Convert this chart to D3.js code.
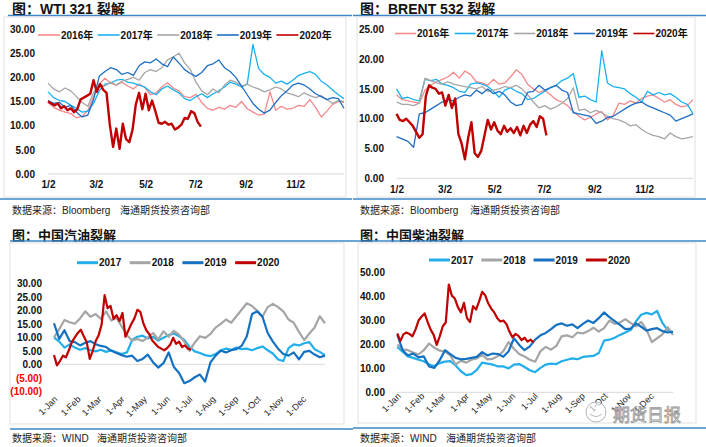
<!DOCTYPE html>
<html>
<head>
<meta charset="utf-8">
<script src="https://cdn.jsdelivr.net/npm/d3@7"></script>
<style>
    body { margin: 0; background: #fff; }
    svg { display: block; font-family: "Liberation Sans", "Noto Sans CJK SC", sans-serif; }
    .title { font-family: "Liberation Sans", "Noto Sans CJK SC", sans-serif; font-size: 14px; font-weight: bold; fill: #111; }
    .title-cn { font-size: 13px; }
    .source { font-family: "Liberation Sans", "Noto Sans CJK SC", sans-serif; font-size: 10px; fill: #222; }
    .tick-y { font-size: 10px; font-weight: bold; fill: #111; }
    .tick-x { font-size: 10px; font-weight: bold; fill: #111; }
    .tick-xr { font-size: 9px; fill: #222; }
    .legend-text { font-size: 10px; font-weight: bold; fill: #111; }
    .watermark { font-family: "Noto Sans CJK SC", sans-serif; font-size: 17px; fill: #fff; stroke: #8c8c8c; stroke-width: 0.8px; }
</style>
</head>
<body>
<svg id="chart" width="706" height="447"></svg>
<script>

/************/
/*** DATA ***/
/************/

var upper_years = ['2016', '2017', '2018', '2019', '2020'];
var lower_years = ['2017', '2018', '2019', '2020'];

var upper_tick_labels = ['1/2', '3/2', '5/2', '7/2', '9/2', '11/2'];
var lower_tick_labels = ['1-Jan', '1-Feb', '1-Mar', '1-Apr', '1-May', '1-Jun',
                         '1-Jul', '1-Aug', '1-Sep', '1-Oct', '1-Nov', '1-Dec'];

var wti_y_ticks    = [0, 5, 10, 15, 20, 25, 30];
var brent_y_ticks  = [0, 5, 10, 15, 20, 25];
var gas_y_ticks    = [-10, -5, 0, 5, 10, 15, 20, 25, 30];
var diesel_y_ticks = [0, 10, 20, 30, 40, 50];

// weekly readings (2020: every 4 days)
var wti2016 = [14.8,13.8,13.2,12.8,12.5,11.6,11.9,13.2,16.0,18.6,19.8,18.8,18.4,19.0,18.2,17.6,18.6,17.9,16.4,16.8,18.0,18.9,17.8,17.2,16.0,15.8,16.5,14.8,13.6,13.2,13.8,13.4,14.2,13.8,15.0,13.5,12.8,12.2,12.4,17.0,13.2,14.0,13.4,13.6,14.2,14.0,15.4,13.8,11.8,13.0,14.4,15.0,14.8];
var wti2017 = [17.0,15.8,15.2,15.0,14.2,13.6,12.8,13.0,14.6,17.2,18.6,18.8,19.4,19.6,19.0,18.8,18.4,18.0,17.0,16.4,17.6,18.2,17.4,16.8,15.6,15.2,16.0,16.6,15.8,16.6,17.2,18.0,19.0,18.6,18.0,18.6,26.8,21.8,20.6,20.0,18.8,19.2,18.6,19.4,20.4,20.8,21.2,20.6,19.2,18.4,17.4,16.4,15.6];
var wti2018 = [18.8,17.6,17.0,17.8,17.2,16.0,14.8,14.0,16.8,18.6,18.2,19.0,18.4,19.2,19.6,20.0,19.4,21.0,21.6,21.2,22.0,23.6,24.2,25.0,23.0,21.6,19.0,17.2,16.4,17.6,16.8,18.4,19.4,19.0,18.2,18.6,18.0,17.6,17.0,17.4,18.0,17.6,16.8,16.4,16.0,16.8,16.2,15.8,16.2,15.4,14.6,15.2,15.0];
var wti2019 = [15.2,14.6,14.8,13.8,14.2,12.8,11.8,12.2,15.4,20.2,21.2,22.0,21.6,20.6,21.0,20.4,22.4,23.2,23.0,23.8,22.8,22.2,24.2,23.0,21.6,20.8,20.2,21.0,22.4,22.8,23.6,22.0,21.2,20.0,18.2,16.4,14.6,13.4,12.6,13.2,14.8,16.2,17.2,18.4,18.8,18.4,17.6,16.6,16.0,15.4,15.8,15.6,13.6];
var wti2020 = [15.0,14.6,14.2,14.6,13.6,14.0,13.2,13.6,12.8,13.4,15.4,15.8,16.2,16.6,19.4,17.0,18.6,17.4,16.8,10.2,5.6,9.4,5.2,10.4,7.2,6.6,9.2,14.4,16.8,13.4,16.6,13.2,15.2,13.0,10.6,10.4,10.8,10.2,10.4,9.2,9.6,10.2,11.6,11.4,13.0,12.6,10.8,9.8];

var brent2016 = [14.0,13.2,13.0,12.8,12.6,14.8,15.6,16.2,16.6,17.0,17.8,16.8,18.0,17.4,16.2,16.0,15.6,16.6,15.8,16.0,17.0,18.2,17.4,15.8,15.0,14.4,14.8,14.0,13.2,12.8,12.2,11.2,10.4,9.8,10.2,10.8,11.2,9.8,10.6,12.6,12.4,13.0,12.6,13.4,13.8,14.0,13.4,12.8,13.2,12.4,12.0,12.2,13.2];
var brent2017 = [15.0,13.4,13.6,13.2,13.0,16.6,16.4,16.6,15.8,15.6,15.2,14.6,14.4,15.8,16.0,15.8,15.4,14.6,13.6,14.8,15.2,14.6,14.2,13.2,13.4,14.0,14.6,15.2,15.6,16.4,16.8,17.6,13.6,13.8,13.2,12.8,21.4,16.0,15.4,15.2,15.0,14.2,13.6,12.8,14.6,14.0,14.4,14.0,14.2,13.6,12.8,12.4,10.8];
var brent2018 = [12.8,12.4,12.4,12.2,12.6,16.8,16.4,16.0,15.8,16.2,15.8,15.6,15.4,15.2,15.0,15.4,14.6,14.8,15.0,15.4,15.2,15.6,15.0,14.0,12.8,11.8,12.2,11.6,12.0,12.6,13.4,15.2,11.4,11.6,11.0,11.4,11.0,10.4,10.0,9.8,9.4,8.8,9.0,8.2,7.6,7.2,7.0,6.6,7.6,7.0,6.6,6.8,7.0];
var brent2019 = [7.0,6.6,6.2,5.2,10.8,11.0,11.6,12.2,12.8,13.2,13.0,13.6,14.0,13.8,14.8,14.2,15.0,14.2,14.6,14.0,12.8,12.2,12.4,14.4,14.6,15.6,14.8,15.2,15.6,14.8,14.4,11.0,10.8,10.6,10.4,9.2,9.6,10.2,10.4,11.0,11.6,12.2,12.6,12.8,12.2,11.8,11.4,11.0,10.6,9.6,10.0,10.4,10.8];
var brent2020 = [10.8,9.8,9.6,10.0,9.4,8.8,7.8,6.8,7.4,13.8,15.6,15.2,15.0,14.2,14.4,12.2,14.0,11.8,13.4,7.4,5.8,3.2,6.8,9.4,4.2,3.6,4.6,7.2,9.8,8.2,9.4,8.0,7.4,8.8,7.8,8.4,7.6,8.6,7.2,8.8,7.6,9.0,9.6,8.6,10.4,10.0,7.2];

var gas2017 = [10.0,8.4,6.2,7.4,6.2,5.4,6.0,5.2,4.8,5.4,4.6,5.2,4.4,3.8,4.4,9.0,10.2,10.6,9.6,10.2,8.8,9.8,10.8,11.4,10.4,9.0,6.4,4.8,4.2,3.4,3.0,3.8,5.2,5.8,5.4,6.2,5.6,5.8,5.2,6.0,6.6,5.2,4.0,1.8,1.2,6.0,7.4,7.0,7.8,8.2,5.6,4.6,3.4];
var gas2018 = [10.0,13.0,16.4,15.6,15.0,17.0,19.6,17.6,18.6,16.8,19.6,16.2,17.2,14.0,10.8,8.8,9.4,8.6,10.0,11.6,9.2,12.2,10.2,12.4,11.0,8.4,5.0,8.0,10.4,9.8,11.2,13.6,15.0,16.6,15.4,17.8,20.2,22.6,21.6,19.8,17.6,21.2,22.4,21.2,19.6,16.6,15.4,12.0,9.0,11.4,13.6,17.8,15.2];
var gas2019 = [15.2,9.4,12.6,8.6,8.2,7.0,8.0,8.6,7.4,6.8,6.4,5.0,4.2,3.4,2.8,3.2,1.2,2.0,3.6,0.8,-1.2,0.4,4.4,-1.0,-3.2,-7.0,-6.2,-4.8,-3.8,-6.4,0.6,3.2,5.0,4.4,5.2,5.6,6.8,10.4,18.6,19.6,17.6,11.6,8.4,5.8,3.8,3.2,4.4,1.8,4.6,5.0,3.6,2.6,3.2];
var gas2020 = [3.4,-0.4,1.2,3.2,2.6,5.2,8.2,10.0,11.6,12.8,10.4,8.2,2.0,5.0,8.6,10.8,14.8,25.6,20.8,21.6,16.8,18.2,16.0,19.0,10.2,12.6,15.0,17.0,20.2,19.4,15.2,12.6,11.2,8.8,7.6,6.4,5.8,5.2,6.0,7.2,9.8,7.6,8.4,6.4,7.0,5.8,5.4];

var diesel2017 = [19.0,17.0,15.0,14.4,13.6,13.0,11.6,11.0,12.2,12.8,13.0,11.2,8.8,7.2,7.6,9.4,12.4,12.0,11.6,10.8,10.8,10.0,11.6,11.8,10.6,9.2,8.4,10.2,11.6,12.0,11.8,13.0,13.6,14.2,13.8,14.8,15.0,15.2,16.4,21.6,22.0,22.8,24.0,25.0,26.0,29.6,32.4,33.2,32.6,34.0,29.0,26.0,25.2];
var diesel2018 = [20.0,18.0,17.6,16.6,15.8,17.6,20.4,18.6,17.4,17.0,15.4,11.6,13.2,12.4,13.6,14.2,15.6,13.8,14.0,15.2,17.2,21.0,18.2,16.0,15.0,13.6,12.8,17.2,19.0,17.8,19.4,23.4,23.8,23.0,25.0,24.6,25.6,27.0,25.4,26.8,30.0,28.6,29.2,30.6,29.0,27.6,29.4,26.2,21.0,22.6,24.2,27.2,24.0];
var diesel2019 = [24.0,17.6,15.4,16.2,14.6,15.0,10.8,10.2,13.4,17.6,16.0,14.4,13.8,14.0,14.4,14.8,16.8,15.4,16.2,16.0,14.9,17.2,22.6,19.8,17.6,19.2,22.0,23.8,24.8,26.4,28.2,28.8,27.8,28.4,26.8,28.6,30.0,29.0,31.0,33.4,31.4,29.8,28.2,26.4,26.6,28.8,27.4,25.8,26.4,26.8,25.6,25.0,25.2];
var diesel2020 = [24.6,21.4,24.2,25.0,24.4,23.4,26.2,30.0,31.6,33.0,29.4,26.2,24.0,19.8,23.4,27.6,29.2,45.0,40.4,39.2,35.6,33.4,37.4,31.0,29.4,36.0,34.6,38.0,42.0,40.6,37.2,35.0,33.4,31.0,29.6,30.0,28.6,25.4,23.0,24.4,23.6,21.8,22.8,21.2,22.0,20.8];

/*********************/
/*** INIT VARIABLE ***/
/*********************/

var svg = d3.select('#chart');
var base_year = 2019;

var upper_colors = {'2016': '#f4898b', '2017': '#1ab0ef', '2018': '#a6a6a6', '2019': '#1f6fc5', '2020': '#c00000'};
var lower_colors = {'2017': '#22aeea', '2018': '#a5a5a5', '2019': '#1470c0', '2020': '#c00000'};

var fmt_md  = d3.timeFormat('%-m/%-d'),
    fmt_dm  = d3.timeFormat('%-d-%b'),
    fmt_val = d3.format('.2f');

/********************************/
/*** DECLARE HELPER FUNCTIONS ***/
/********************************/

function to_points(values, start, step) {
    return values.map(function(v, i) {
        return {date: d3.timeDay.offset(start, i * step), value: v};
    });
}

function parse_ticks(labels, fmt) {
    var parse = d3.timeParse(fmt);
    return labels.map(function(l) {
        var d = parse(l);
        return new Date(base_year, d.getMonth(), d.getDate());
    });
}

function fmt_tick(v) {
    return v < 0 ? '(' + fmt_val(-v) + ')' : fmt_val(v);
}

function render_frame(f) {
    svg.append('text').classed('title', true).classed('title-cn', f.small_title)
        .attr('x', f.title_x).attr('y', f.title_y).text(f.title);

    svg.append('line')
        .attr('x1', f.top_x0).attr('x2', f.top_x1).attr('y1', f.top_y).attr('y2', f.top_y)
        .attr('stroke', '#3f86c8').attr('stroke-width', 1.6);

    svg.append('rect')
        .attr('x', f.box[0]).attr('y', f.box[1])
        .attr('width', f.box[2] - f.box[0]).attr('height', f.box[3] - f.box[1])
        .attr('fill', 'none').attr('stroke', '#e1e1e1');

    svg.append('line')
        .attr('x1', f.bot_x0).attr('x2', f.top_x1).attr('y1', f.bot_y).attr('y2', f.bot_y)
        .attr('stroke', '#3f86c8').attr('stroke-width', 1.6);

    svg.append('text').classed('source', true)
        .attr('x', f.title_x).attr('y', f.src_y).text(f.src1);
    svg.append('text').classed('source', true)
        .attr('x', f.src2_x).attr('y', f.src_y).text('海通期货投资咨询部');
}

function render_legend(l, years, colors, suffix) {
    for (var i = 0; i < years.length; i++) {
        var lx = l.x + l.gap * i;
        svg.append('line')
            .attr('x1', lx).attr('x2', lx + l.len).attr('y1', l.y).attr('y2', l.y)
            .attr('stroke', colors[years[i]]).attr('stroke-width', l.width);
        svg.append('text').classed('legend-text', true)
            .attr('x', lx + l.len + 1).attr('y', l.y).attr('dy', '0.35em')
            .text(years[i] + suffix);
    }
}

function render_plot(p) {
    var x = d3.scaleTime().domain(p.xdomain).range([p.x0, p.x1]);
    var y = d3.scaleLinear().domain(p.ydomain).range([p.y0, p.y1]);

    // base line at zero
    svg.append('line')
        .attr('x1', p.x0).attr('x2', p.x1).attr('y1', y(0)).attr('y2', y(0))
        .attr('stroke', '#d9d9d9');

    // value axis
    var ya = svg.append('g')
        .attr('transform', `translate(${p.ylab_x}, 0)`)
        .call(d3.axisLeft(y).tickValues(p.yticks).tickFormat(fmt_tick).tickSize(0).tickPadding(0));
    ya.select('.domain').remove();
    ya.selectAll('text').attr('class', 'tick-y')
        .style('fill', function(d) { return d < 0 ? '#ff0000' : '#111'; });

    // date axis
    var xa = svg.append('g')
        .attr('transform', `translate(0, ${p.xlab_y})`)
        .call(d3.axisBottom(x).tickValues(p.xticks).tickFormat(p.xfmt).tickSize(0).tickPadding(0));
    xa.select('.domain').remove();
    if (p.rotate) {
        xa.selectAll('text').attr('class', 'tick-xr')
            .attr('x', 2).attr('y', 0).attr('dy', '0.35em')
            .attr('transform', 'rotate(-45)')
            .style('text-anchor', 'end');
    } else {
        xa.selectAll('text').attr('class', 'tick-x').attr('dy', '0.35em');
    }

    var line = d3.line()
        .x(function(d) { return x(d.date); })
        .y(function(d) { return y(d.value); });

    for (var i = 0; i < p.series.length; i++) {
        var s = p.series[i];
        svg.append('path')
            .datum(to_points(s.values, p.xdomain[0], s.step))
            .attr('d', line)
            .attr('fill', 'none')
            .attr('stroke', p.colors[s.year])
            .attr('stroke-width', s.year == '2020' ? p.red_width : p.width)
            .attr('stroke-linejoin', 'round');
    }
}

/**************/
/*** RENDER ***/
/**************/

var upper_ticks = parse_ticks(upper_tick_labels, '%m/%d'),
    lower_ticks = parse_ticks(lower_tick_labels, '%d-%b'),
    upper_domain = [new Date(base_year, 0, 2), new Date(base_year + 1, 0, 1)],
    lower_domain = [new Date(base_year, 0, 1), new Date(base_year, 11, 31)];

// WTI 321
render_frame({title: '图：WTI 321 裂解', title_x: 12, title_y: 13.5, top_x0: 8, top_x1: 352, top_y: 15.5,
              box: [4, 17, 346, 197], bot_x0: 0, bot_y: 199, src_y: 213.5,
              src1: '数据来源：Bloomberg', src2_x: 120});
render_legend({x: 38, y: 35, gap: 59.6, len: 22, width: 1.6}, upper_years, upper_colors, '年');
render_plot({xdomain: upper_domain, x0: 48, x1: 344, ydomain: [0, 30], y0: 174, y1: 29,
             yticks: wti_y_ticks, ylab_x: 35, xticks: upper_ticks, xfmt: fmt_md, xlab_y: 184.5,
             colors: upper_colors, width: 1.3, red_width: 2.4,
             series: [{year: '2016', values: wti2016, step: 7}, {year: '2017', values: wti2017, step: 7},
                      {year: '2018', values: wti2018, step: 7}, {year: '2019', values: wti2019, step: 7},
                      {year: '2020', values: wti2020, step: 4}]});

// BRENT 532
render_frame({title: '图：BRENT 532 裂解', title_x: 360, title_y: 13.5, top_x0: 353, top_x1: 706, top_y: 15.5,
              box: [357, 17, 695, 197], bot_x0: 353, bot_y: 199, src_y: 213.5,
              src1: '数据来源：Bloomberg', src2_x: 470});
render_legend({x: 395, y: 33.5, gap: 59.6, len: 21, width: 1.6}, upper_years, upper_colors, '年');
render_plot({xdomain: upper_domain, x0: 396.5, x1: 693, ydomain: [0, 25], y0: 178.3, y1: 29.3,
             yticks: brent_y_ticks, ylab_x: 384, xticks: upper_ticks, xfmt: fmt_md, xlab_y: 189,
             colors: upper_colors, width: 1.3, red_width: 2.4,
             series: [{year: '2016', values: brent2016, step: 7}, {year: '2017', values: brent2017, step: 7},
                      {year: '2018', values: brent2018, step: 7}, {year: '2019', values: brent2019, step: 7},
                      {year: '2020', values: brent2020, step: 4}]});

// gasoline
render_frame({title: '图：中国汽油裂解', small_title: true, title_x: 12, title_y: 239.5, top_x0: 10, top_x1: 353, top_y: 241,
              box: [10, 243, 344, 424], bot_x0: 10, bot_y: 429, src_y: 442,
              src1: '数据来源：WIND', src2_x: 97});
render_legend({x: 77, y: 262.7, gap: 52.7, len: 21, width: 3}, lower_years, lower_colors, '');
render_plot({xdomain: lower_domain, x0: 54, x1: 325, ydomain: [-10, 30], y0: 391.3, y1: 283.3,
             yticks: gas_y_ticks, ylab_x: 42, xticks: lower_ticks, xfmt: fmt_dm, xlab_y: 399, rotate: true,
             colors: lower_colors, width: 2.2, red_width: 2.2,
             series: [{year: '2017', values: gas2017, step: 7}, {year: '2018', values: gas2018, step: 7},
                      {year: '2019', values: gas2019, step: 7}, {year: '2020', values: gas2020, step: 4}]});

// diesel
render_frame({title: '图：中国柴油裂解', small_title: true, title_x: 360, title_y: 239.5, top_x0: 353, top_x1: 706, top_y: 241,
              box: [358, 243, 696, 423], bot_x0: 353, bot_y: 428, src_y: 442,
              src1: '数据来源：WIND', src2_x: 446});
render_legend({x: 429, y: 260, gap: 52.3, len: 21, width: 3}, lower_years, lower_colors, '');
render_plot({xdomain: lower_domain, x0: 397.3, x1: 673, ydomain: [0, 50], y0: 392.3, y1: 272.7,
             yticks: diesel_y_ticks, ylab_x: 385, xticks: lower_ticks, xfmt: fmt_dm, xlab_y: 396, rotate: true,
             colors: lower_colors, width: 2.2, red_width: 2.2,
             series: [{year: '2017', values: diesel2017, step: 7}, {year: '2018', values: diesel2018, step: 7},
                      {year: '2019', values: diesel2019, step: 7}, {year: '2020', values: diesel2020, step: 4}]});

// watermark
var wm = svg.append('g').attr('opacity', 0.9);
wm.append('circle').attr('cx', 596).attr('cy', 412).attr('r', 10)
    .attr('fill', '#fff').attr('fill-opacity', 0.7).attr('stroke', '#9a9a9a').attr('stroke-width', 0.8);
wm.append('path').attr('d', 'M590,414 q6,5 12,0').attr('fill', 'none').attr('stroke', '#9a9a9a').attr('stroke-width', 0.8);
wm.append('text').classed('watermark', true).attr('x', 613).attr('y', 421).text('期货日报');

</script>
</body>
</html>
